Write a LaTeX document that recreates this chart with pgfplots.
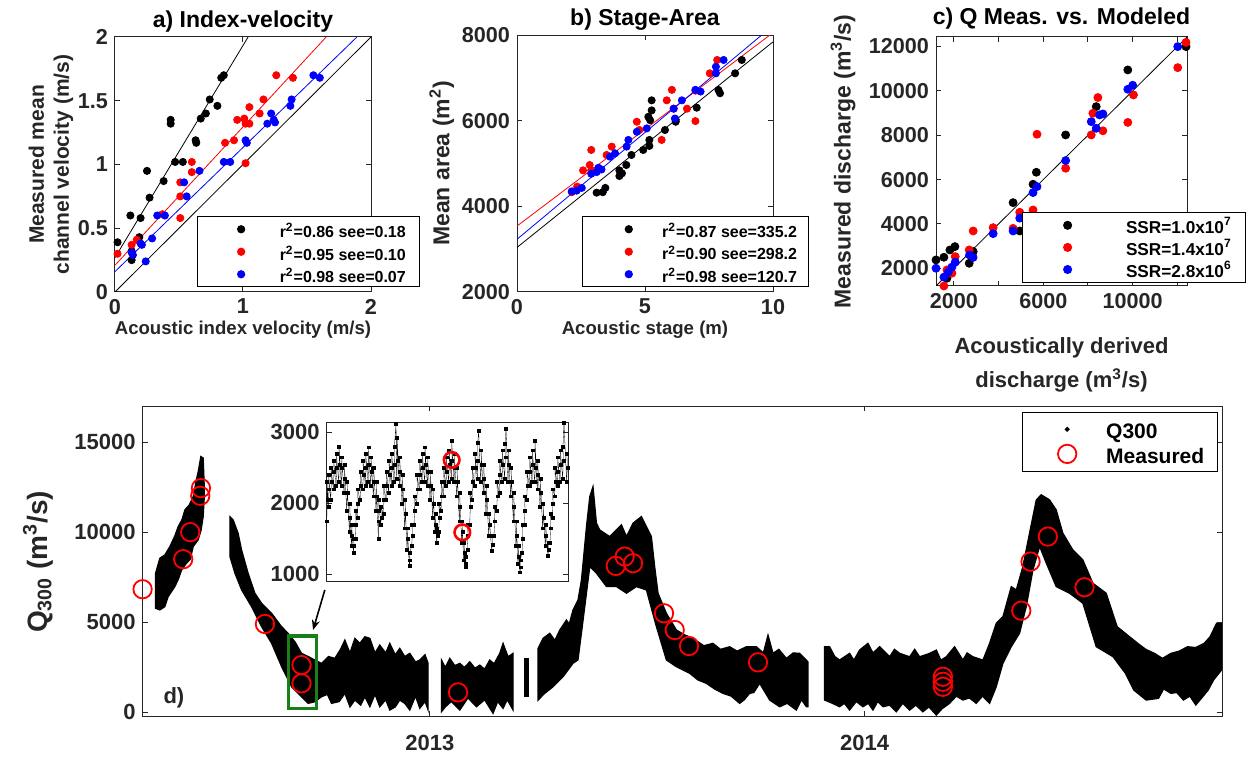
\documentclass[border=0pt]{standalone}
\usepackage{fontspec}
\setmainfont{Liberation Sans}
\usepackage{pgfplots}
\pgfplotsset{compat=1.18}
\usetikzlibrary{arrows.meta}
\definecolor{axgray}{gray}{0.15}
\definecolor{mgreen}{RGB}{24,128,24}
\newcommand{\fs}[1]{\fontsize{#1}{#1}\selectfont}

\pgfplotsset{
  every axis title shift=0pt,
  ml/.style={
    scale only axis, anchor=south west, scaled ticks=false,
    axis line style={axgray, line width=0.5pt},
    every tick/.style={axgray, line width=0.5pt},
    tick align=inside, major tick length=2.5pt,
    tick label style={text=axgray, font=\bfseries\fs{10.8}},
    label style={text=axgray, font=\bfseries\fs{10}},
    title style={text=black, font=\bfseries\fs{11.5}, at={(0.5,1)}, anchor=center},
    legend cell align=left,
    legend style={draw=black, line width=0.5pt, fill=white, inner ysep=0.7pt,
      row sep=0pt, nodes={inner sep=0pt}, font=\bfseries\fs{8}, text=black},
  },
  dk/.style={only marks, mark=*, mark size=1.8pt, black},
  dr/.style={only marks, mark=*, mark size=1.8pt, red},
  db/.style={only marks, mark=*, mark size=1.8pt, blue},
  limg/.style={legend image code/.code={\draw[##1] plot coordinates {(0pt,0pt)};}},
  limgQ/.style={legend image code/.code={\fill[black] (0pt,0pt) circle (0.9pt);}},
  seg/.style={fill=black, draw=black, line width=0.6pt},
}
% struts for legend rows (height, depth)
\newcommand{\rowA}{\rule[-3.95pt]{0pt}{13.7pt}}
\newcommand{\rowC}{\rule[-3.75pt]{0pt}{13.3pt}}
\newcommand{\rowD}{\rule[-3.4pt]{0pt}{14.2pt}}

\begin{document}
\bfseries
\begin{tikzpicture}
\useasboundingbox (0,0) rectangle (624.5pt,378pt);

% ---------------- a) Index-velocity
\begin{axis}[ml, at={(57.5pt,232pt)}, width=128pt, height=127.5pt,
  xmin=0, xmax=2, ymin=0, ymax=2,
  xtick={0,1,2}, xticklabels={0,1,2},
  ytick={0,0.5,1,1.5,2}, yticklabels={0,0.5,1,1.5,2},
  title={a) Index-velocity}, title style={yshift=7.75pt},
  xlabel={Acoustic index velocity (m/s)},
  xlabel style={at={(axis description cs:0.5,0)}, anchor=north, yshift=-11pt, font=\bfseries\fs{9.3}},
  ylabel={Measured mean\\channel velocity (m/s)},
  ylabel style={at={(axis description cs:-0.25,0.5)}, anchor=center, align=center, font=\bfseries\fontsize{10.5}{12.5}\selectfont},
  legend style={at={(0.319,0.018)}, anchor=south west, inner xsep=20.2pt,
     /tikz/every odd column/.style={column sep=17.5pt}},
]
\addplot[dk, limg] coordinates {(0.02,0.39) (0.12,0.60) (0.13,0.25) (0.13,0.32) (0.20,0.58) (0.19,0.43) (0.25,0.95) (0.27,0.74) (0.38,0.87) (0.435,1.35) (0.435,1.32) (0.47,1.02) (0.53,1.02) (0.63,1.19) (0.635,1.17) (0.67,1.36) (0.71,1.40) (0.74,1.51) (0.80,1.46) (0.83,1.68) (0.85,1.70)};
\addlegendentry{\rowA\makebox[49.8pt][l]{r\textsuperscript{2}=0.86 see=0.18}}
\addplot[dr, limg] coordinates {(0.02,0.30) (0.13,0.37) (0.17,0.41) (0.37,0.61) (0.51,0.58) (0.51,0.75) (0.51,0.86) (0.60,0.94) (0.60,1.02) (0.86,1.17) (0.93,1.19) (0.955,1.35) (1.01,1.36) (1.02,1.32) (1.05,1.32) (1.02,1.01) (1.05,1.45) (1.16,1.51) (1.13,1.40) (1.26,1.70) (1.39,1.68)};
\addlegendentry{\rowA\makebox[49.8pt][l]{r\textsuperscript{2}=0.95 see=0.10}}
\addplot[db, limg] coordinates {(0.13,0.31) (0.14,0.29) (0.21,0.37) (0.20,0.38) (0.24,0.24) (0.29,0.42) (0.33,0.60) (0.39,0.60) (0.54,0.86) (0.56,0.75) (0.66,0.95) (0.85,1.02) (0.90,1.02) (1.02,1.19) (1.03,1.17) (1.19,1.32) (1.22,1.40) (1.24,1.35) (1.25,1.33) (1.38,1.51) (1.37,1.46) (1.55,1.70) (1.60,1.68)};
\addlegendentry{\rowA\makebox[49.8pt][l]{r\textsuperscript{2}=0.98 see=0.07}}
\addplot[black, line width=0.4pt, forget plot] coordinates {(0,0.27) (1.04,2)};
\addplot[red, line width=0.4pt, forget plot] coordinates {(0,0.21) (1.65,2)};
\addplot[blue, line width=0.4pt, forget plot] coordinates {(0,0.16) (1.89,2)};
\addplot[black, line width=0.4pt, forget plot] coordinates {(0,0) (2,2)};
\end{axis}

% ---------------- b) Stage-Area
\begin{axis}[ml, at={(258.5pt,232pt)}, width=128pt, height=128.5pt,
  xmin=0, xmax=10, ymin=2000, ymax=8000,
  xtick={0,5,10}, xticklabels={0,5,10},
  ytick={2000,4000,6000,8000}, yticklabels={2000,4000,6000,8000},
  title={b) Stage-Area}, title style={yshift=7.5pt},
  xlabel={Acoustic stage (m)},
  xlabel style={at={(axis description cs:0.5,0)}, anchor=north, yshift=-11pt, font=\bfseries\fs{9.3}},
  ylabel={Mean area (m\textsuperscript{2})},
  ylabel style={at={(axis description cs:-0.294,0.5)}, anchor=center, font=\bfseries\fs{11.5}},
  legend style={at={(0.2527,0.018)}, anchor=south west, inner xsep=21.5pt,
     /tikz/every odd column/.style={column sep=14.9pt}},
]
\addplot[dk, limg] coordinates {(3.11,4319) (3.35,4330) (3.45,4430) (4.0,4708) (4.1,4770) (4.0,4840) (4.27,4965) (4.47,5199) (4.93,5316) (5.17,5410) (5.17,5550) (5.2,6010) (5.26,6240) (5.26,6475) (5.13,6090) (5.78,5782) (6.2,5975) (6.2,6020) (7.02,6303) (7.87,6716) (7.93,6640) (8.52,7106) (8.78,7417)};
\addlegendentry{\rowA\makebox[51.8pt][l]{r\textsuperscript{2}=0.87 see=335.2}}
\addplot[dr, limg] coordinates {(2.14,4330) (2.35,4460) (2.58,4840) (2.84,4965) (2.9,4840) (2.9,5316) (3.5,5199) (3.7,5394) (4.68,5975) (4.78,5782) (5.65,5550) (5.85,6475) (6.05,6720) (6.12,6280) (6.64,6280) (6.97,5990) (6.97,6700) (7.53,7106) (7.82,7417)};
\addlegendentry{\rowA\makebox[51.8pt][l]{r\textsuperscript{2}=0.90 see=298.2}}
\addplot[db, limg] coordinates {(2.14,4350) (2.33,4366) (2.53,4430) (2.9,4760) (3.11,4800) (3.3,4860) (3.18,4900) (3.63,5160) (3.83,5238) (4.28,5394) (4.35,5550) (4.68,5740) (5.07,5820) (6.12,6280) (6.44,6475) (6.17,6050) (6.97,6720) (7.17,6680) (7.77,7106) (7.77,7260) (8.07,7417)};
\addlegendentry{\rowA\makebox[51.8pt][l]{r\textsuperscript{2}=0.98 see=120.7}}
\addplot[black, line width=0.4pt, forget plot] coordinates {(0,3040) (10,7840)};
\addplot[red, line width=0.4pt, forget plot] coordinates {(0,3540) (9.88,8000)};
\addplot[blue, line width=0.4pt, forget plot] coordinates {(0,3230) (9.56,8000)};
\end{axis}

% ---------------- c) Q Meas. vs. Modeled
\begin{axis}[ml, at={(468pt,235pt)}, width=125.5pt, height=124.5pt,
  xmin=1200, xmax=12430, ymin=1200, ymax=12430,
  xtick={2000,4000,6000,8000,10000,12000}, xticklabels={2000,,6000,,10000,},
  ytick={2000,4000,6000,8000,10000,12000}, yticklabels={2000,4000,6000,8000,10000,12000},
  title={c) Q Meas. vs. Modeled}, title style={yshift=9.35pt},
  xlabel={Acoustically derived\\discharge (m\textsuperscript{3}/s)},
  xlabel style={at={(axis description cs:0.5,0)}, anchor=north, yshift=-22pt, align=center, font=\bfseries\fontsize{11}{17}\selectfont},
  ylabel={Measured discharge (m\textsuperscript{3}/s)},
  ylabel style={at={(axis description cs:-0.3705,0.5)}, anchor=center, font=\bfseries\fs{11.5}},
  legend style={at={(1.2339,0.011)}, anchor=south east, inner ysep=1.1pt, inner xsep=20.5pt,
     /tikz/every odd column/.style={column sep=0pt}},
]
\addplot[dk, mark size=2pt, limg] coordinates {(1200,2375) (1554,2496) (1821,2825) (2045,2976) (1690,1549) (2685,2225) (2863,2750) (4649,4960) (4946,3682) (5542,5789) (5690,6329) (7000,8013) (8369,9290) (9781,10945) (12387,11996)};
\addlegendentry{\rowC\makebox[66.3pt][l]{\hspace*{27.2pt}\fs{8.6}SSR=1.0x10\textsuperscript{7}}}
\addplot[dr, mark size=2pt, limg] coordinates {(1554,1200) (1690,1925) (1913,1775) (2060,2526) (2685,2826) (2863,3682) (3756,3832) (4649,3800) (4946,4525) (5542,4630) (5720,8044) (7000,6510) (8146,8013) (8443,9700) (8220,8990) (8666,8200) (9781,8577) (10036,9817) (12015,11048) (12387,12186)};
\addlegendentry{\rowC\makebox[66.3pt][l]{\hspace*{27.2pt}\fs{8.6}SSR=1.4x10\textsuperscript{7}}}
\addplot[db, mark size=2pt, limg] coordinates {(1200,2000) (1554,1600) (1750,1825) (1910,2050) (2060,2275) (2700,2600) (2860,2490) (3756,3562) (4649,3682) (4946,4260) (5542,5413) (5720,5683) (7000,6856) (8146,8614) (8369,8313) (8518,8916) (8666,8960) (9781,10073) (10000,10253) (12015,11996) (12387,12486)};
\addlegendentry{\rowC\makebox[66.3pt][l]{\hspace*{27.2pt}\fs{8.6}SSR=2.8x10\textsuperscript{6}}}
\addplot[black, line width=0.4pt, forget plot] coordinates {(1200,1200) (12430,12430)};
\end{axis}

% ---------------- d) time series
\begin{axis}[ml, at={(71.35pt,20pt)}, width=539.65pt, height=155pt,
  xmin=-241, xmax=665, ymin=-200, ymax=17000,
  xtick={0,365}, xticklabels={2013,2014},
  ytick={0,5000,10000,15000}, yticklabels={0,5000,10000,15000},
  tick label style={font=\bfseries\fs{11}}, xticklabel style={yshift=-6pt},
  ylabel={Q\textsubscript{300} (m\textsuperscript{3}/s)},
  ylabel style={at={(axis description cs:-0.097,0.497)}, anchor=center, font=\bfseries\fs{14}},
  clip=false, axis on top,
  legend style={at={(0.8144,0.9816)}, anchor=north west, inner ysep=2.4pt, inner xsep=17.9pt,
     font=\bfseries\fs{10.5}, /tikz/every odd column/.style={column sep=14.9pt}},
]
\addplot[seg, limgQ] coordinates {(-230.2,7723) (-226.6,8556) (-222.4,8739) (-218.2,9201) (-214,9800) (-211.2,10312) (-208,10700) (-205.6,11240) (-202,11500) (-198.6,11979) (-196,12900) (-194.4,13368) (-192.2,14201) (-190.2,14112) (-189.4,12723) (-189.4,11795) (-190.2,10867) (-192,10100) (-194.4,9573) (-198.6,9201) (-201,8500) (-204.2,8278) (-208.3,7906) (-211,7400) (-214.0,6978) (-219.6,6423) (-222.4,5867) (-226.6,5684) (-230.2,5778)} -- cycle;
\addlegendentry{\rowD\makebox[37.5pt][l]{Q300}}
\addplot[seg, forget plot] coordinates {(-167.8,10867) (-165.1,10684) (-160.9,9945) (-158.0,9017) (-152.5,7723) (-146.8,6612) (-141.2,6056) (-132.8,5500) (-124.4,4756) (-118.9,4389) (-113,3900) (-107.7,3278) (-102,3100) (-96.5,2906) (-90.9,2722) (-85,3100) (-79.7,3000) (-75,3500) (-71.3,4017) (-67,3300) (-62.9,4111) (-58.7,3834) (-54.5,4200) (-50.3,4111) (-46,3300) (-42.0,3739) (-37,3300) (-33.6,3834) (-29,3200) (-25.2,3556) (-21,3100) (-16.8,3278) (-12,2800) (-8.4,2906) (-4,3200) (-1.4,2722) (-1.4,128) (-4,600) (-8.4,222) (-12,900) (-16.8,128) (-21,500) (-25.2,683) (-29,300) (-33.6,128) (-37,700) (-42.0,311) (-46,1000) (-50.3,311) (-54.5,867) (-58,400) (-62.9,683) (-67,300) (-71.3,1056) (-76,600) (-82.5,500) (-86,1000) (-90.9,867) (-96.5,589) (-102.1,500) (-107.7,867) (-116.0,1422) (-124.4,2534) (-132.8,3834) (-141.2,4756) (-149.6,5867) (-158.0,6795) (-163.6,7723) (-167.8,8645)} -- cycle;
\addplot[seg, forget plot] coordinates {(9.8,2906) (13,2500) (16.8,3000) (21,2600) (25.2,2722) (29,2500) (33.6,2811) (38,2450) (42.0,2628) (46,2400) (50.3,2906) (54,2700) (58.7,3278) (61.5,3834) (65.7,3089) (69.9,3278) (69.9,128) (65,700) (61.5,222) (57,600) (53.1,-56) (46,700) (39.2,311) (32,800) (25.2,128) (18,600) (13,300) (9.8,33)} -- cycle;
\addplot[seg, forget plot] coordinates {(79.7,3000) (82.5,3000) (82.5,867) (79.7,867)} -- cycle;
\addplot[seg, forget plot] coordinates {(90.9,3556) (95.1,4111) (100.7,4389) (105,4000) (109.1,4572) (114.7,5128) (117,4900) (120.2,5684) (124.4,6239) (127.3,7350) (131.5,10312) (134.3,11979) (137.0,12534) (139.9,10500) (142.6,10128) (151.0,9756) (156.7,10128) (160.9,10406) (165.1,9756) (170.6,10500) (177.6,10867) (181.8,10312) (186.0,9756) (188.8,8089) (191.6,6612) (198.6,5500) (207.0,4572) (214,4300) (220.9,4111) (230,3700) (237.7,3834) (244,3500) (251.7,3645) (258,3400) (265.7,3645) (274.1,3645) (280,3300) (283.9,4295) (288.1,3278) (293,3500) (299.3,3000) (305,3300) (310.5,3278) (316.1,2906) (317.4,2800) (317.4,311) (316.1,311) (312,700) (307.7,128) (300,500) (293.7,311) (285.3,683) (276.9,1611) (272,1100) (268.5,1056) (264,700) (260.1,500) (253,900) (246.1,1056) (239,1300) (232.1,1611) (225,1800) (218.2,2167) (207.0,2534) (198.6,2906) (190.2,4756) (181.8,6795) (173.4,6978) (165.1,6612) (156.7,6978) (148.3,6978) (139.9,7723) (134.3,8089) (130.1,5867) (127.3,4389) (124.4,2906) (120.2,2722) (111.9,1978) (103.5,1422) (96.5,1056) (90.9,683)} -- cycle;
\addplot[seg, forget plot] coordinates {(331.4,3645) (335.6,3645) (340,3100) (344.0,2906) (352.4,3278) (356,2900) (360.8,3461) (367.8,3834) (372,3300) (377.6,3645) (386.0,3089) (390,3500) (394.4,3278) (402.8,3089) (407,3500) (411.2,3089) (419.6,3278) (425.2,3461) (429,2900) (433.6,3089) (440.5,3645) (447.5,2906) (451,3300) (455.9,3089) (464.3,2906) (469.9,3834) (475.5,4945) (481.1,5312) (488.1,6978) (492.3,6795) (497.8,8089) (503.4,9945) (509.1,11795) (513.3,12073) (520.2,11795) (525.8,11240) (531.4,9945) (539.8,9017) (548.2,8462) (556.6,7167) (567.8,6612) (577.0,4756) (587.4,4200) (594.3,3834) (601,3500) (608.3,3278) (615,3000) (622.1,3278) (629,3400) (636.0,3645) (643,3600) (650.0,3834) (655,4200) (660.4,4945) (664.6,4945) (664.6,2350) (658,1800) (653.4,1239) (648,800) (643.0,406) (638,900) (632.6,683) (627,1100) (622.1,1056) (616,1300) (611.7,778) (601.3,683) (590.9,1239) (583.9,2167) (573.5,3089) (559.4,3645) (548.2,6056) (537.0,6612) (525.8,6978) (517.5,8278) (511.9,9201) (506.3,7906) (500.7,5867) (495.1,4389) (488.1,3645) (481.1,2722) (475.5,1422) (469.9,500) (464,900) (458.7,500) (453,800) (447.5,683) (442,900) (436.3,500) (430,200) (425.2,-150) (419,300) (413.9,33) (408,400) (402.8,128) (397,500) (391.6,33) (386,400) (380.4,311) (376,600) (372.0,128) (368,500) (363.6,311) (358,600) (352.4,128) (348,500) (344.0,311) (338,500) (331.4,683)} -- cycle;
\addplot[only marks, mark=o, mark size=4.6pt, red, line width=0.9pt, limg] coordinates {(-241.1,6833) (-207.0,8500) (-201.1,10000) (-192.1,12444) (-192.7,12017) (-138.4,4906) (-107.7,2628) (-107.7,1611) (23.7,1111) (156.1,8128) (163.6,8644) (170.6,8278) (196.6,5500) (205.6,4572) (217.6,3683) (275.5,2778) (430.7,1978) (430.7,1700) (430.7,1422) (496.5,5644) (504.3,8367) (518.8,9756) (549.6,6944)};
\addlegendentry{\rowD\makebox[37.5pt][l]{Measured}}
\draw[mgreen, line width=1.6pt] (axis cs:-118.9,222) rectangle (axis cs:-95.1,4239);
\draw[black, line width=0.8pt, -{Stealth[length=5pt,width=4pt]}] (axis cs:-88.1,6795) -- (axis cs:-98.0,4572);
\node[font=\bfseries\fs{11}, text=axgray] at (axis cs:-214.8,822) {d)};
\end{axis}

% ---------------- inset
\begin{axis}[ml, at={(163.35pt,87.15pt)}, width=120.8pt, height=79.7pt,
  xmin=0, xmax=725, ymin=896, ymax=3141,
  xtick=\empty, ytick={1000,2000,3000}, yticklabels={1000,2000,3000},
  tick label style={font=\bfseries\fs{11}},
  axis background/.style={fill=white},
]
\addplot[black, line width=0.15pt, mark=square*, mark size=0.7pt] coordinates {
(0,1750)(2,2050)(1,2300)(5,1950)(7,2200)(6,2400)(12,2050)(14,2300)(13,2500)(20,2200)(22,2450)(21,2600)
(28,2250)(30,2500)(29,2700)(36,2300)(38,2550)(37,2800)(44,2250)(46,2500)(45,2650)(52,2150)(54,2350)(53,2550)
(60,1900)(62,2150)(61,2300)(68,1600)(70,1800)(69,2000)(74,1400)(76,1550)(75,1700)(80,1310)(82,1400)(81,1500)
(86,1500)(88,1700)(87,1900)(92,1800)(94,2000)(93,2200)(100,2050)(102,2250)(101,2450)(108,2200)(110,2400)(109,2600)
(116,2250)(118,2500)(117,2700)(124,2300)(126,2550)(125,2790)(132,2250)(134,2450)(133,2650)(140,2100)(142,2300)(141,2500)
(148,1900)(150,2100)(149,2300)(155,1500)(155,1750)(157,1900)(156,2050)(162,1700)(164,1800)(163,1950)
(170,1850)(172,2050)(171,2250)(178,2050)(180,2250)(179,2450)(186,2150)(188,2400)(187,2600)(194,2250)(196,2500)(195,2700)
(202,2300)(204,2550)(203,2800)(208,3120)(210,2350)(212,2600)(211,2930)(218,2250)(220,2450)(219,2650)
(226,2000)(228,2200)(227,2400)(234,1650)(236,1850)(235,2050)(241,1350)(243,1500)(242,1650)(248,1120)(250,1200)(249,1300)
(255,1400)(257,1550)(256,1700)(262,1700)(264,1900)(263,2100)(270,2000)(272,2200)(271,2400)(278,2200)(280,2400)(279,2600)
(286,2300)(288,2500)(287,2700)(294,2300)(296,2550)(295,2790)(302,2250)(304,2450)(303,2650)(310,2050)(312,2250)(311,2450)
(318,1800)(320,2000)(319,2200)(325,1600)(327,1700)(326,1850)(330,1450)(332,1550)(331,1650)(336,1600)(338,1800)(337,2000)
(343,1900)(345,2100)(344,2300)(350,2100)(352,2300)(351,2500)(358,2250)(360,2450)(359,2650)(366,2300)(368,2550)(367,2750)
(374,2350)(376,2600)(375,2880)(382,2300)(384,2500)(383,2700)(390,2100)(392,2300)(391,2500)(398,1750)(400,1950)(399,2150)
(405,1450)(407,1600)(406,1750)(411,1200)(413,1300)(412,1450)(416,1100)(418,1150)(417,1250)(422,1350)(424,1550)(423,1700)
(429,1700)(431,1950)(430,2150)(436,2050)(438,2300)(437,2500)(444,2250)(446,2500)(445,2700)(452,2350)(454,2600)(453,2850)(456,3020)
(462,2300)(464,2550)(463,2750)(470,2150)(472,2350)(471,2550)(478,1850)(480,2050)(479,2250)(486,1550)(488,1700)(487,1850)
(495,1330)(497,1420)(496,1550)(502,1550)(504,1750)(503,1950)(510,1900)(512,2100)(511,2300)(518,2150)(520,2400)(519,2600)
(526,2300)(528,2550)(527,2750)(534,2350)(536,2650)(535,2840)(538,3050)(544,2300)(546,2550)(545,2750)(552,2100)(554,2300)(553,2500)
(560,1750)(562,1950)(561,2150)(568,1400)(570,1550)(569,1750)(574,1150)(576,1250)(575,1400)(580,1030)(582,1100)(581,1200)
(586,1300)(588,1500)(587,1700)(593,1700)(595,1900)(594,2100)(600,2050)(602,2250)(601,2450)(608,2250)(610,2450)(609,2650)
(616,2300)(618,2550)(617,2750)(624,2300)(626,2500)(625,2880)(632,2200)(634,2400)(633,2600)(640,1950)(642,2150)(641,2350)
(648,1650)(650,1800)(649,2000)(656,1400)(658,1550)(657,1700)(664,1260)(666,1350)(665,1450)(670,1450)(672,1650)(671,1850)
(677,1800)(679,2000)(678,2200)(684,2100)(686,2300)(685,2500)(692,2250)(694,2450)(693,2650)(700,2300)(702,2550)(701,2750)
(708,2350)(710,2600)(709,2800)(712,3140)(720,2300)(722,2500)(721,2700)};
\addplot[only marks, mark=o, mark size=3.9pt, red, line width=1.3pt] coordinates {(375,2611) (407,1591)};
\end{axis}
\end{tikzpicture}
\end{document}
